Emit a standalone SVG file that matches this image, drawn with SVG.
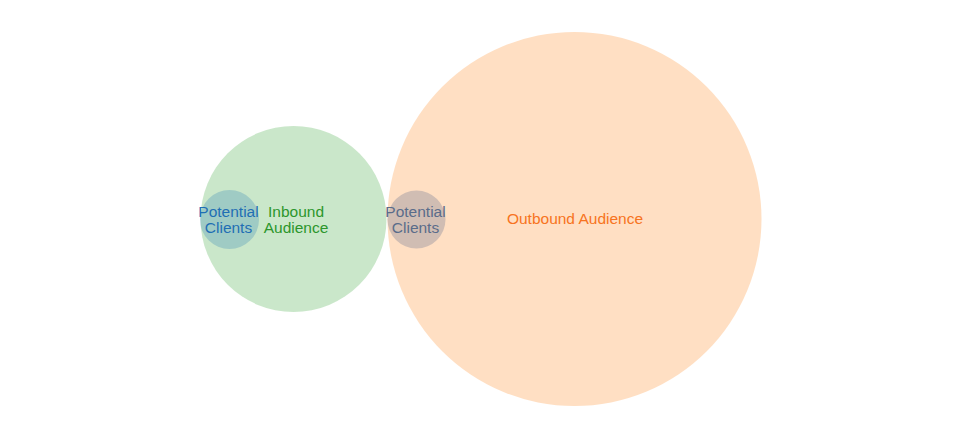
<svg xmlns="http://www.w3.org/2000/svg" width="956" height="427" viewBox="0 0 956 427">
<style>
text{font-family:"Liberation Sans",Arial,sans-serif;font-size:15.5px;text-anchor:middle}
</style>
<rect width="956" height="427" fill="#ffffff"/>
<g id="inbound"><circle cx="293.5" cy="219" r="93" fill="#2ca02c" fill-opacity="0.25"/></g>
<g id="outbound"><circle cx="574.5" cy="219" r="187" fill="#ff7f0e" fill-opacity="0.25"/></g>
<g id="clients-in"><circle cx="229.5" cy="219.5" r="29.5" fill="#1f77b4" fill-opacity="0.25"/></g>
<g id="clients-out"><circle cx="416.5" cy="219.5" r="29" fill="#d0bdb3"/></g>
<g id="labels">
<text x="296" y="217" fill="#2c962c">Inbound</text>
<text x="296" y="233" fill="#2c962c">Audience</text>
<text x="575" y="224" fill="#f77320">Outbound Audience</text>
<text x="228.5" y="217" fill="#1f6fb4">Potential</text>
<text x="228.5" y="233" fill="#1f6fb4">Clients</text>
<text x="415.5" y="217" fill="#5a6c8a">Potential</text>
<text x="415.5" y="233" fill="#5a6c8a">Clients</text>
</g>
</svg>
